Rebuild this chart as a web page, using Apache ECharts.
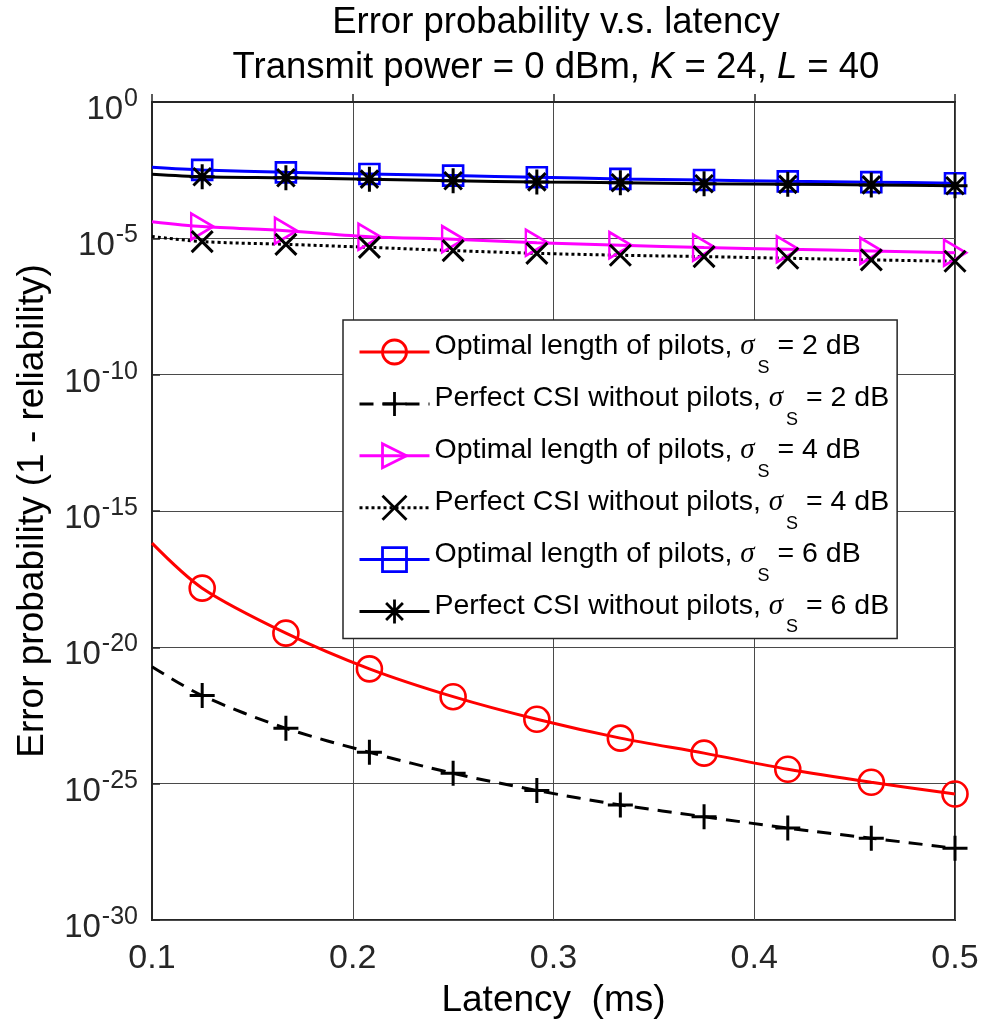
<!DOCTYPE html>
<html>
<head>
<meta charset="utf-8">
<script src="https://cdn.jsdelivr.net/npm/echarts@6/dist/echarts.min.js"></script>
<style>
html,body{margin:0;padding:0;background:#fff;}
#c{width:982px;height:1028px;}
</style>
</head>
<body>
<div id="c"></div>
<script>
// Latency (ms)
const latency = [0.1, 0.125, 0.1667, 0.2083, 0.25, 0.2917, 0.3333, 0.375, 0.4167, 0.4583, 0.5];
// log10 of error probability
const optimal2dB = [-16.18, -17.83, -19.48, -20.79, -21.81, -22.64, -23.33, -23.88, -24.47, -24.95, -25.38];
const perfect2dB = [-20.71, -21.77, -22.97, -23.85, -24.62, -25.25, -25.78, -26.21, -26.63, -27.00, -27.37];
const optimal4dB = [-4.39, -4.57, -4.72, -4.94, -5.03, -5.16, -5.25, -5.34, -5.40, -5.46, -5.53];
const perfect4dB = [-4.93, -5.12, -5.22, -5.33, -5.45, -5.55, -5.62, -5.67, -5.73, -5.79, -5.84];
const optimal6dB = [-2.39, -2.49, -2.58, -2.64, -2.70, -2.76, -2.82, -2.86, -2.91, -2.94, -2.98];
const perfect6dB = [-2.65, -2.74, -2.78, -2.83, -2.89, -2.93, -2.96, -3.00, -3.02, -3.04, -3.07];
const seriesNames = [
  'Optimal length of pilots, σ_S = 2 dB',
  'Perfect CSI without pilots, σ_S = 2 dB',
  'Optimal length of pilots, σ_S = 4 dB',
  'Perfect CSI without pilots, σ_S = 4 dB',
  'Optimal length of pilots, σ_S = 6 dB',
  'Perfect CSI without pilots, σ_S = 6 dB'
];
const xTicks = [0.1, 0.2, 0.3, 0.4, 0.5];
const yTickExponents = [0, -5, -10, -15, -20, -25, -30];

const FONT = 'Liberation Sans, Arial, Helvetica, sans-serif';
const PLUS = 'path://M0,10L20,10M10,0L10,20';
const CROSS = 'path://M0,0L20,20M20,0L0,20';
const STAR = 'path://M10,0L10,20M0,10L20,10M3,3L17,17M17,3L3,17';

function mk(vals) {
  return latency.map((x, i) => i === 0 ? {value: [x, vals[i]], symbol: 'none'} : {value: [x, vals[i]]});
}
function line(name, vals, color, symbol, size, lineType, rotate, bw) {
  return {
    name: name, type: 'line', data: mk(vals), smooth: 0.3,
    symbol: symbol, symbolSize: size, symbolRotate: rotate || 0,
    lineStyle: {color: color, width: 3, type: lineType || 'solid'},
    itemStyle: {color: 'rgba(0,0,0,0)', borderColor: color, borderWidth: bw || 2.6},
    emphasis: {disabled: true}, animation: false
  };
}

const chart = echarts.init(document.getElementById('c'), null, {renderer: 'canvas'});
chart.setOption({
  animation: false,
  backgroundColor: '#fff',
  title: {
    left: 551, top: -5, textAlign: 'center',
    text: '{n|Error probability v.s. latency}\n{n|Transmit power = 0 dBm, }{i|K}{n| = 24, }{i|L}{n| = 40}',
    textStyle: {
      fontWeight: 'normal',
      rich: {
        n: {fontFamily: FONT, fontSize: 36.5, fontWeight: 'normal', color: '#000', lineHeight: 45},
        i: {fontFamily: FONT, fontSize: 36.5, fontWeight: 'normal', color: '#000', fontStyle: 'italic', lineHeight: 45}
      }
    }
  },
  grid: {left: 152, right: 27, top: 102, bottom: 108, show: true, borderColor: '#262626', borderWidth: 2, backgroundColor: '#fff'},
  xAxis: {
    type: 'value', min: 0.1, max: 0.5, interval: 0.1,
    name: 'Latency  (ms)', nameLocation: 'middle', nameGap: 62,
    nameTextStyle: {fontFamily: FONT, fontSize: 37, color: '#000'},
    axisLine: {show: true, lineStyle: {color: '#262626', width: 2}},
    axisTick: {show: true, inside: true, length: 8, lineStyle: {color: '#262626', width: 1.5}},
    splitLine: {show: true, lineStyle: {color: '#4a4a4a', width: 1}},
    axisLabel: {
      margin: 22, fontFamily: FONT, fontSize: 34, color: '#262626',
      formatter: v => { const t = xTicks.find(k => Math.abs(k - v) < 1e-9); return t === undefined ? '' : t.toFixed(1); }
    }
  },
  yAxis: {
    type: 'value', min: -30, max: 0, interval: 5,
    name: 'Error probability (1 - reliability)', nameLocation: 'middle', nameGap: 101,
    nameTextStyle: {fontFamily: FONT, fontSize: 37, color: '#000'},
    axisLine: {show: true, lineStyle: {color: '#262626', width: 2}},
    axisTick: {show: true, inside: true, length: 8, lineStyle: {color: '#262626', width: 1.5}},
    splitLine: {show: true, lineStyle: {color: '#4a4a4a', width: 1}},
    axisLabel: {
      margin: 14,
      formatter: v => { const e = yTickExponents.find(k => Math.abs(k - v) < 1e-9); return e === undefined ? '' : '{b|10}{s|' + e + '}'; },
      rich: {
        b: {fontFamily: FONT, fontSize: 33, color: '#262626', verticalAlign: 'middle', padding: [16, 0, 0, 0]},
        s: {fontFamily: FONT, fontSize: 25, color: '#262626', verticalAlign: 'middle', padding: [0, 0, 6, 1]}
      }
    }
  },
  legend: {
    orient: 'vertical', left: 343, top: 320,
    padding: [12, 8, 2, 15], itemGap: 6.9, itemWidth: 70, itemHeight: 30,
    backgroundColor: '#fff', borderColor: '#262626', borderWidth: 1.5,
    data: seriesNames,
    lineStyle: {width: 3},
    itemStyle: {borderWidth: 2.8},
    formatter: name => {
      const p = name.split('σ_S');
      return '{t|' + p[0] + '}{sig|σ}{sub|S}{t|' + p[1] + '}';
    },
    textStyle: {
      rich: {
        t: {fontFamily: FONT, fontSize: 28.5, color: '#000', verticalAlign: 'top', lineHeight: 40},
        sig: {fontFamily: 'Liberation Serif, Times New Roman, serif', fontStyle: 'italic', fontSize: 29, color: '#000', verticalAlign: 'top', lineHeight: 40, padding: [0, 3, 0, 0]},
        sub: {fontFamily: FONT, fontSize: 18, color: '#000', verticalAlign: 'top', lineHeight: 20, padding: [27, 0, 0, 0]}
      }
    }
  },
  series: [
    line(seriesNames[0], optimal2dB, '#ff0000', 'circle', 25),
    line(seriesNames[1], perfect2dB, '#000000', PLUS, 25, [14, 9], 0, 3),
    line(seriesNames[2], optimal4dB, '#ff00ff', 'triangle', [26, 22], 'solid', -90),
    line(seriesNames[3], perfect4dB, '#000000', CROSS, 21, [3, 3], 0, 3),
    line(seriesNames[4], optimal6dB, '#0000ff', 'rect', 20),
    line(seriesNames[5], perfect6dB, '#000000', STAR, 25, 'solid', 0, 3)
  ]
});
</script>
</body>
</html>
